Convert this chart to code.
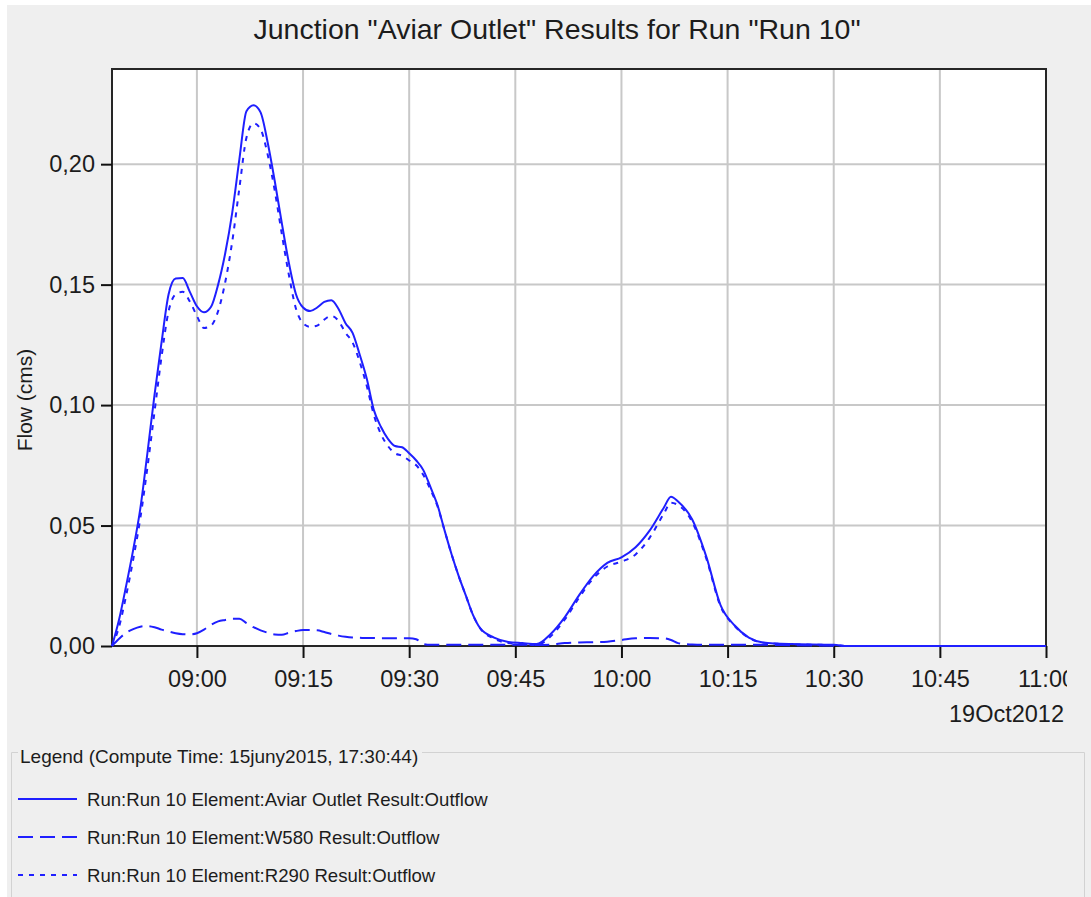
<!DOCTYPE html>
<html>
<head>
<meta charset="utf-8">
<script src="https://cdn.jsdelivr.net/npm/d3@7"></script>
<style>
	html, body { margin: 0; padding: 0; background: #fff; }
	svg { display: block; }
	text { font-family: "Liberation Sans", Arial, sans-serif; fill: #1c1c1c; }
</style>
</head>
<body>
<div id="chart"></div>
<script>
///////////////////////////////////////////////////////////////////////////
//////////////////////////// data /////////////////////////////////////////
///////////////////////////////////////////////////////////////////////////

const day = "2012-10-19";

// time steps (hh:mm)
const times = [
	"08:48", "08:49", "08:50", "08:51", "08:52", "08:53", "08:54", "08:55", "08:56", "08:57",
	"08:58", "08:59", "09:00", "09:01", "09:02", "09:03", "09:04", "09:05", "09:06", "09:07",
	"09:08", "09:09", "09:10", "09:11", "09:12", "09:13", "09:14", "09:15", "09:16", "09:17",
	"09:18", "09:19", "09:20", "09:21", "09:22", "09:23", "09:24", "09:25", "09:26", "09:27",
	"09:28", "09:29", "09:30", "09:31", "09:32", "09:33", "09:34", "09:35", "09:36", "09:37",
	"09:38", "09:39", "09:40", "09:42", "09:44", "09:46", "09:48", "09:50", "09:52", "09:54",
	"09:56", "09:58", "10:00", "10:02", "10:04", "10:06", "10:07", "10:08", "10:10", "10:12",
	"10:14", "10:16", "10:18", "10:20", "10:24", "10:30", "10:32", "11:00"
];

// Aviar Outlet (solid)
const outletFlow = [
	0, 0.011, 0.025, 0.040, 0.057, 0.080, 0.104, 0.126, 0.146, 0.1525,
	0.1527, 0.147, 0.141, 0.1385, 0.1408, 0.150, 0.163, 0.180, 0.202, 0.222,
	0.2245, 0.2215, 0.209, 0.193, 0.1755, 0.159, 0.146, 0.1405, 0.139, 0.1405,
	0.1428, 0.1435, 0.140, 0.134, 0.130, 0.121, 0.111, 0.098, 0.091, 0.086,
	0.083, 0.0825, 0.080, 0.077, 0.073, 0.066, 0.0585, 0.048, 0.038, 0.029,
	0.021, 0.013, 0.0075, 0.0035, 0.0017, 0.0012, 0.0008, 0.005, 0.012, 0.021,
	0.029, 0.0345, 0.0368, 0.041, 0.048, 0.0575, 0.062, 0.060, 0.0525, 0.037,
	0.017, 0.0085, 0.0035, 0.0015, 0.0008, 0.0005, 0, 0
];

// W580 (long dash)
const w580Flow = [
	0, 0.003, 0.0055, 0.007, 0.008, 0.0083, 0.0078, 0.0068, 0.006, 0.0053,
	0.0049, 0.0048, 0.0053, 0.0068, 0.0088, 0.0102, 0.0108, 0.0113, 0.0113, 0.0095,
	0.0078, 0.0065, 0.0055, 0.0048, 0.0047, 0.0055, 0.0062, 0.0066, 0.0066, 0.0065,
	0.0058, 0.005, 0.0043, 0.0038, 0.0035, 0.0034, 0.0033, 0.0033, 0.0032, 0.0032,
	0.0032, 0.0032, 0.0032, 0.0028, 0.0008, 0.0005, 0.0005, 0.0005, 0.0005, 0.0005,
	0.0005, 0.0005, 0.0005, 0.0005, 0.0005, 0.0005, 0.0004, 0.0006, 0.0012, 0.0015,
	0.0016, 0.0018, 0.0025, 0.0032, 0.0033, 0.0032, 0.0025, 0.0012, 0.0006, 0.0005,
	0.0005, 0.0005, 0.0005, 0.0005, 0.0003, 0.0001, 0, 0
];

// R290 (short dash)
const r290Flow = [
	0, 0.008, 0.021, 0.036, 0.053, 0.074, 0.097, 0.120, 0.139, 0.146,
	0.147, 0.143, 0.137, 0.132, 0.133, 0.139, 0.151, 0.168, 0.190, 0.211,
	0.217, 0.2145, 0.204, 0.189, 0.171, 0.154, 0.140, 0.134, 0.1325, 0.133,
	0.1355, 0.137, 0.135, 0.130, 0.126, 0.118, 0.108, 0.096, 0.088, 0.083,
	0.080, 0.079, 0.077, 0.075, 0.071, 0.065, 0.058, 0.048, 0.038, 0.029,
	0.021, 0.013, 0.0075, 0.003, 0.0012, 0.0007, 0.0004, 0.004, 0.011, 0.020,
	0.028, 0.033, 0.035, 0.038, 0.045, 0.055, 0.0595, 0.0585, 0.0515, 0.0362,
	0.0165, 0.0083, 0.0034, 0.0014, 0.0007, 0.0004, 0, 0
];

const seriesNames = [
	"Run:Run 10 Element:Aviar Outlet Result:Outflow",
	"Run:Run 10 Element:W580 Result:Outflow",
	"Run:Run 10 Element:R290 Result:Outflow"
];

const yTicks = [0, 0.05, 0.1, 0.15, 0.2];
const xTicks = ["09:00", "09:15", "09:30", "09:45", "10:00", "10:15", "10:30", "10:45", "11:00"];
const timeDomain = ["08:48", "11:00"];
const yMax = 0.2395;

const chartTitle = 'Junction "Aviar Outlet" Results for Run "Run 10"';
const dateLabel = "19Oct2012";
const legendTitle = "Legend (Compute Time: 15juny2015, 17:30:44)";

///////////////////////////////////////////////////////////////////////////
//////////////////////////// svg //////////////////////////////////////////
///////////////////////////////////////////////////////////////////////////

var width = 1091,
	height = 897,
	margin = { top: 69, right: 45, bottom: 251, left: 112 };

const blue = "#1f1fff";
const dashes = ["none", "15,7", "5,6"];

const parseTime = (s) => d3.timeParse("%Y-%m-%d %H:%M")(day + " " + s);

const svg = d3
	.select("#chart")
	.append("svg")
	.attr("width", width)
	.attr("height", height);

// panel background with the thin white edge
svg.append("rect").attr("width", width).attr("height", height).attr("fill", "#fff");
svg
	.append("rect")
	.attr("x", 7)
	.attr("y", 5)
	.attr("width", width - 7)
	.attr("height", height - 5)
	.attr("fill", "#efefef");

// scales
var xScale = d3
	.scaleTime()
	.domain(timeDomain.map(parseTime))
	.range([margin.left, width - margin.right]);

var yScale = d3
	.scaleLinear()
	.domain([0, yMax])
	.range([height - margin.bottom, margin.top]);

const comma = d3.formatLocale({ decimal: ",", thousands: ".", grouping: [3], currency: ["", ""] });

const x0 = margin.left,
	x1 = width - margin.right,
	y0 = height - margin.bottom,
	y1 = margin.top;

// plot area
svg
	.append("rect")
	.attr("x", x0)
	.attr("y", y1)
	.attr("width", x1 - x0)
	.attr("height", y0 - y1)
	.attr("fill", "#fff");

///////////////////////////////////////////////////////////////////////////
//////////////////////////// grid /////////////////////////////////////////
///////////////////////////////////////////////////////////////////////////

const grid = svg.append("g").attr("stroke", "#c8c8c8").attr("stroke-width", 2);

grid
	.selectAll(".vgrid")
	.data(xTicks.map(parseTime))
	.enter()
	.append("line")
	.attr("x1", (d) => xScale(d))
	.attr("x2", (d) => xScale(d))
	.attr("y1", y1)
	.attr("y2", y0);

grid
	.selectAll(".hgrid")
	.data(yTicks.slice(1))
	.enter()
	.append("line")
	.attr("x1", x0)
	.attr("x2", x1)
	.attr("y1", (d) => yScale(d))
	.attr("y2", (d) => yScale(d));

// frame
svg
	.append("rect")
	.attr("x", x0)
	.attr("y", y1)
	.attr("width", x1 - x0)
	.attr("height", y0 - y1)
	.attr("fill", "none")
	.attr("stroke", "#262626")
	.attr("stroke-width", 2);

///////////////////////////////////////////////////////////////////////////
//////////////////////////// axes /////////////////////////////////////////
///////////////////////////////////////////////////////////////////////////

svg.append("clipPath").attr("id", "labelclip").append("rect").attr("x", 0).attr("y", 0).attr("width", 1067).attr("height", height);

const xAxis = d3
	.axisBottom(xScale)
	.tickValues(xTicks.map(parseTime))
	.tickSize(12)
	.tickPadding(10)
	.tickFormat(d3.timeFormat("%H:%M"));

const gx = svg
	.append("g")
	.attr("clip-path", "url(#labelclip)")
	.attr("transform", "translate(0," + y0 + ")")
	.call(xAxis);

const yAxis = d3
	.axisLeft(yScale)
	.tickValues(yTicks)
	.tickSize(11)
	.tickPadding(6)
	.tickFormat(comma.format(".2f"));

const gy = svg
	.append("g")
	.attr("transform", "translate(" + x0 + ",0)")
	.call(yAxis);

[gx, gy].forEach((g) => {
	g.select(".domain").remove();
	g.selectAll(".tick line").attr("stroke", "#111").attr("stroke-width", 2);
	g.selectAll(".tick text")
		.attr("fill", "#1c1c1c")
		.style("font-family", '"Liberation Sans", Arial, sans-serif')
		.style("font-size", "23.5px");
});
gx.selectAll(".tick text").attr("dy", "0.71em").attr("y", 24);

svg
	.append("text")
	.attr("x", 1064)
	.attr("y", 722)
	.attr("text-anchor", "end")
	.style("font-size", "23.5px")
	.text(dateLabel);

svg
	.append("text")
	.attr("transform", "translate(32,400) rotate(-90)")
	.attr("text-anchor", "middle")
	.style("font-size", "21px")
	.text("Flow (cms)");

svg
	.append("text")
	.attr("x", 557)
	.attr("y", 39)
	.attr("text-anchor", "middle")
	.style("font-size", "28.5px")
	.text(chartTitle);

///////////////////////////////////////////////////////////////////////////
//////////////////////////// plot /////////////////////////////////////////
///////////////////////////////////////////////////////////////////////////

const series = [outletFlow, w580Flow, r290Flow].map((vals, i) => ({
	name: seriesNames[i],
	dash: dashes[i],
	values: times.map((t, j) => ({ date: parseTime(t), flow: vals[j] }))
}));

const line = d3
	.line()
	.x((d) => xScale(d.date))
	.y((d) => yScale(d.flow))
	.curve(d3.curveMonotoneX);

svg
	.append("g")
	.selectAll(".flow")
	.data(series)
	.enter()
	.append("path")
	.attr("class", "flow")
	.attr("fill", "none")
	.attr("stroke", blue)
	.attr("stroke-width", 2)
	.attr("stroke-dasharray", (d) => d.dash)
	.attr("d", (d) => line(d.values));

///////////////////////////////////////////////////////////////////////////
//////////////////////////// legend ///////////////////////////////////////
///////////////////////////////////////////////////////////////////////////

const legend = svg.append("g");

// etched border, broken where the title sits
legend
	.append("path")
	.attr("d", "M18,752.5H11.5V897 M422,752.5H1084.5V897")
	.attr("fill", "none")
	.attr("stroke", "#d2d2d2")
	.attr("stroke-width", 1);

legend
	.append("text")
	.attr("x", 20)
	.attr("y", 763)
	.style("font-size", "19px")
	.text(legendTitle);

const rows = legend
	.selectAll(".row")
	.data(series)
	.enter()
	.append("g")
	.attr("class", "row")
	.attr("transform", (d, i) => "translate(0," + (799 + i * 38) + ")");

rows
	.append("line")
	.attr("x1", 18)
	.attr("x2", 77)
	.attr("stroke", blue)
	.attr("stroke-width", 2)
	.attr("stroke-dasharray", (d) => d.dash);

rows
	.append("text")
	.attr("x", 87)
	.attr("y", 7)
	.style("font-size", "18.6px")
	.text((d) => d.name);
</script>
</body>
</html>
